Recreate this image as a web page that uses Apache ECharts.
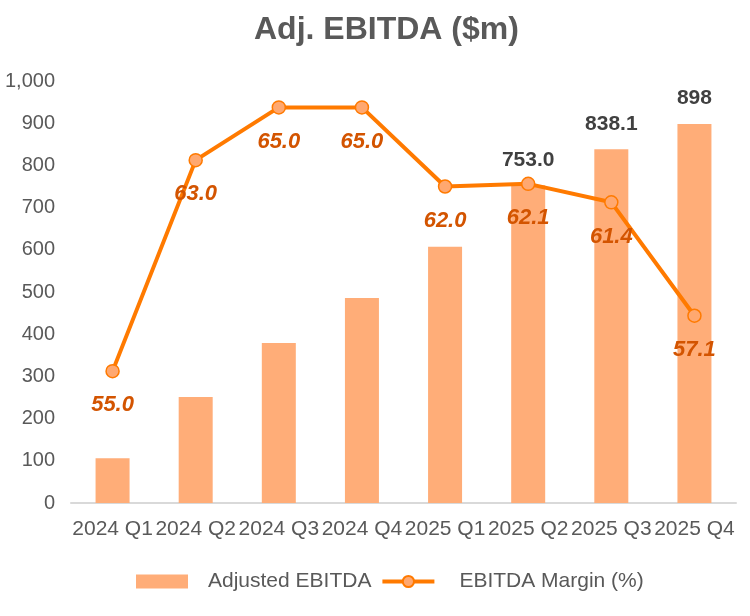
<!DOCTYPE html>
<html>
<head>
<meta charset="utf-8">
<script src="https://cdn.jsdelivr.net/npm/echarts@6/dist/echarts.min.js"></script>
<style>
html,body{margin:0;padding:0;background:#fff;}
#chart{width:750px;height:616px;}
</style>
</head>
<body>
<div id="chart"></div>
<script>
const categories = ['2024 Q1','2024 Q2','2024 Q3','2024 Q4','2025 Q1','2025 Q2','2025 Q3','2025 Q4'];
const ebitda = [106, 251, 379, 486, 607, 753.0, 838.1, 898];
const ebitdaLabels = ['', '', '', '', '', '753.0', '838.1', '898'];
const margin = [55.0, 63.0, 65.0, 65.0, 62.0, 62.1, 61.4, 57.1];
const yTicks = [0, 100, 200, 300, 400, 500, 600, 700, 800, 900, 1000];

const FONT = '"Liberation Sans", Arial, Helvetica, sans-serif';
const chart = echarts.init(document.getElementById('chart'), null, {renderer: 'canvas'});

chart.setOption({
  animation: false,
  backgroundColor: '#ffffff',
  title: {
    text: 'Adj. EBITDA ($m)',
    left: 254,
    top: 14,
    padding: 0,
    textStyle: {fontFamily: FONT, fontSize: 32, fontWeight: 'bold', color: '#595959'}
  },
  grid: {left: 71, right: 14, top: 81, bottom: 113, containLabel: false},
  legend: {
    left: 131,
    top: 566,
    itemWidth: 52,
    itemHeight: 14,
    itemGap: 9,
    textStyle: {fontFamily: FONT, fontSize: 21, color: '#595959'},
    data: [
      {name: 'Adjusted EBITDA', icon: 'rect', textStyle: {padding: [0, 0, 0, 15]}},
      {name: 'EBITDA Margin (%)', lineStyle: {width: 4}, textStyle: {padding: [0, 0, 0, 20]}}
    ]
  },
  xAxis: {
    type: 'category',
    data: categories,
    axisLine: {show: true, lineStyle: {color: '#D9D9D9', width: 2}},
    axisTick: {show: false},
    axisLabel: {interval: 0, margin: 16, fontFamily: FONT, fontSize: 21, color: '#595959'}
  },
  yAxis: [
    {
      type: 'value',
      min: yTicks[0],
      max: yTicks[yTicks.length - 1],
      interval: 100,
      axisLine: {show: false},
      axisTick: {show: false},
      splitLine: {show: false},
      axisLabel: {
        margin: 16, fontFamily: FONT, fontSize: 20, color: '#595959',
        formatter: v => v.toString().replace(/\B(?=(\d{3})+(?!\d))/g, ',')
      }
    },
    {
      type: 'value',
      min: 50,
      max: 66,
      show: false,
      splitLine: {show: false}
    }
  ],
  series: [
    {
      name: 'Adjusted EBITDA',
      type: 'bar',
      barWidth: 34,
      yAxisIndex: 0,
      itemStyle: {color: '#FFAD78'},
      data: ebitda.map((v, i) => ({
        value: v,
        label: {
          show: ebitdaLabels[i] !== '',
          position: 'top',
          distance: 15,
          formatter: () => ebitdaLabels[i],
          fontFamily: FONT, fontSize: 21, fontWeight: 'bold', color: '#404040'
        }
      }))
    },
    {
      name: 'EBITDA Margin (%)',
      type: 'line',
      yAxisIndex: 1,
      data: margin,
      symbol: 'circle',
      symbolSize: 13,
      z: 5,
      lineStyle: {color: '#FF7A00', width: 4},
      itemStyle: {color: '#FFA870', borderColor: '#FF7A00', borderWidth: 1.5},
      label: {
        show: true,
        position: 'bottom',
        distance: 16,
        formatter: p => p.value.toFixed(1),
        fontFamily: FONT, fontSize: 22, fontWeight: 'bold', fontStyle: 'italic', color: '#D35400'
      }
    }
  ]
});
</script>
</body>
</html>
